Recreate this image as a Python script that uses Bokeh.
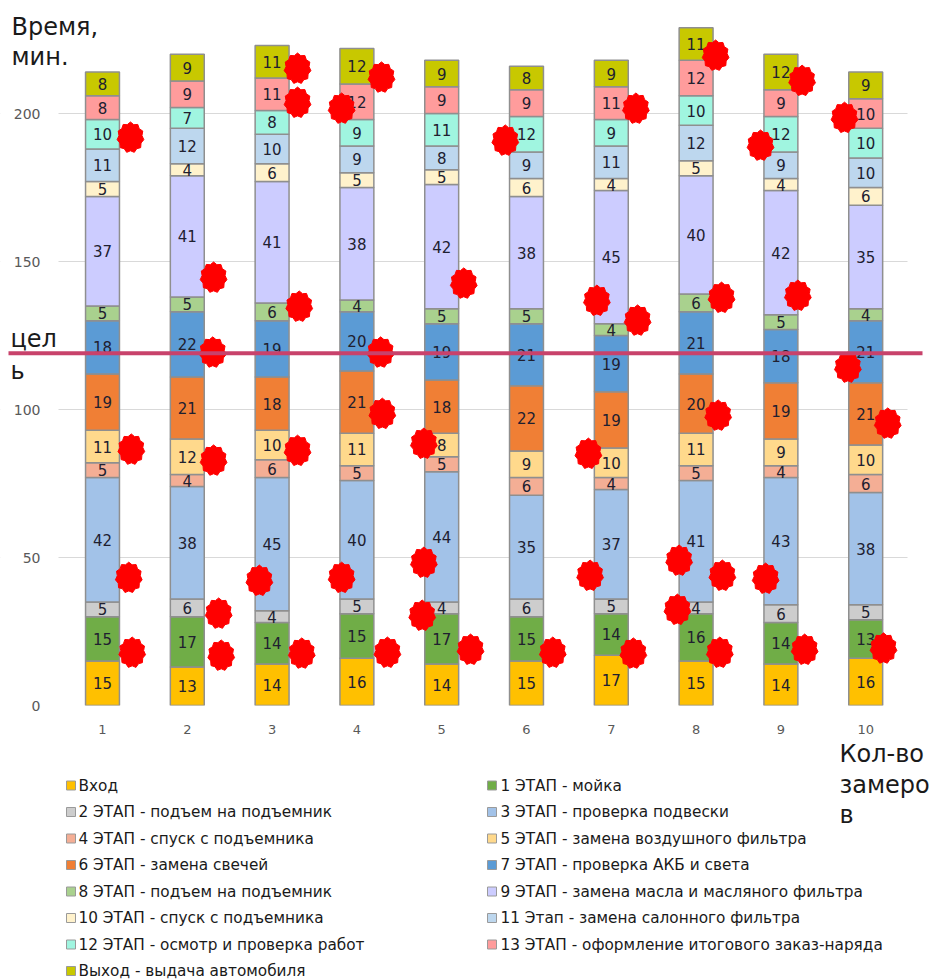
import numpy as np
from bokeh.plotting import figure
from bokeh.layouts import column
from bokeh.models import ColumnDataSource, Range1d, FixedTicker
from bokeh.core.properties import value
from bokeh.embed import file_html
from bokeh.resources import INLINE

# --- data: minutes per stage for each of 10 measurements ---
measurements = [1, 2, 3, 4, 5, 6, 7, 8, 9, 10]

vhod   = [15, 13, 14, 16, 14, 15, 17, 15, 14, 16]
etap1  = [15, 17, 14, 15, 17, 15, 14, 16, 14, 13]
etap2  = [5, 6, 4, 5, 4, 6, 5, 4, 6, 5]
etap3  = [42, 38, 45, 40, 44, 35, 37, 41, 43, 38]
etap4  = [5, 4, 6, 5, 5, 6, 4, 5, 4, 6]
etap5  = [11, 12, 10, 11, 8, 9, 10, 11, 9, 10]
etap6  = [19, 21, 18, 21, 18, 22, 19, 20, 19, 21]
etap7  = [18, 22, 19, 20, 19, 21, 19, 21, 18, 21]
etap8  = [5, 5, 6, 4, 5, 5, 4, 6, 5, 4]
etap9  = [37, 41, 41, 38, 42, 38, 45, 40, 42, 35]
etap10 = [5, 4, 6, 5, 5, 6, 4, 5, 4, 6]
etap11 = [11, 12, 10, 9, 8, 9, 11, 12, 9, 10]
etap12 = [10, 7, 8, 9, 11, 12, 9, 10, 12, 10]
etap13 = [8, 9, 11, 12, 9, 9, 11, 12, 9, 10]
vyhod  = [8, 9, 11, 12, 9, 8, 9, 11, 12, 9]

stage_names = [
    "Вход",
    "1 ЭТАП - мойка",
    "2 ЭТАП - подъем на подъемник",
    "3 ЭТАП - проверка подвески",
    "4 ЭТАП - спуск с подъемника",
    "5 ЭТАП - замена воздушного фильтра",
    "6 ЭТАП - замена свечей",
    "7 ЭТАП - проверка АКБ и света",
    "8 ЭТАП - подъем на подъемник",
    "9 ЭТАП - замена масла и масляного фильтра",
    "10 ЭТАП - спуск с подъемника",
    "11 Этап - замена салонного фильтра",
    "12 ЭТАП - осмотр и проверка работ",
    "13 ЭТАП - оформление итогового заказ-наряда",
    "Выход - выдача автомобиля",
]
stage_colors = [
    "#FFC000", "#70AD47", "#CDCDCD", "#A2C2E8", "#F4AE95",
    "#FFD98C", "#F07F35", "#5B9BD5", "#A9D18E", "#CCCCFF",
    "#FFF2CC", "#BDD7EE", "#A0F5E0", "#FF9C9C", "#C8C800",
]
stages = [vhod, etap1, etap2, etap3, etap4, etap5, etap6, etap7,
          etap8, etap9, etap10, etap11, etap12, etap13, vyhod]

target = 119  # цель, мин.
y_ticks = [0, 50, 100, 150, 200]

# red markers placed over the chart (measurement axis, minutes)
star_x = [1.33, 2.31, 3.30, 3.30, 3.82, 3.32, 2.30, 4.29, 5.26, 5.75,
          6.83, 4.28, 7.29, 8.23, 9.25, 9.75, 8.76, 7.31, 8.30, 9.20,
          1.34, 2.31, 3.30, 1.31, 2.85, 3.82, 2.37, 1.35, 2.40, 3.35,
          4.30, 4.79, 4.79, 4.77, 4.36, 5.34, 6.31, 6.73, 6.75, 9.79,
          8.26, 10.26, 7.80, 8.31, 8.82, 7.78, 7.26, 8.28, 9.28, 10.21]
star_y = [191.9, 144.6, 215.2, 203.7, 201.7, 134.8, 119.3, 212.2, 142.6, 190.9,
          136.8, 119.3, 201.7, 219.6, 211.1, 198.6, 189.2, 130.1, 137.8, 138.5,
          86.5, 82.8, 86.1, 43.2, 42.2, 43.2, 31.1, 17.9, 16.9, 17.6,
          98.6, 88.5, 48.3, 30.4, 17.9, 18.9, 17.9, 85.1, 43.9, 114.2,
          98.0, 95.3, 49.0, 43.9, 42.9, 32.4, 17.6, 17.9, 18.9, 19.3]

FONT = "DejaVu Sans"
DARK = "#1A1A1A"

# --- main chart geometry (frame fills the canvas width) ---
W, HA, HB = 932, 736, 244
frame_bottom = 705            # pixel row of the zero line
px_x = 84.8                   # pixels per measurement step
px_y = 2.96                   # pixels per minute
x0_px = 102                   # pixel column of measurement 1
x_lo = 1 + (0 - x0_px) / px_x
x_hi = 1 + (W - x0_px) / px_x
y_lo, y_hi = 0, frame_bottom / px_y
plot_left, plot_right = 58, 907   # visible extent of the gridlines


def dx(px):
    return 1 + (px - x0_px) / px_x


def dy(py):
    return (frame_bottom - py) / px_y


p = figure(width=W, height=HA, x_range=Range1d(x_lo, x_hi), y_range=Range1d(y_lo, y_hi),
           output_backend="svg", toolbar_location=None,
           min_border_left=0, min_border_right=0,
           min_border_top=0, min_border_bottom=HA - frame_bottom)
p.outline_line_color = None
p.background_fill_color = "white"
p.border_fill_color = "white"

# keep the gridlines within the plotting area
p.quad(left=[x_lo, dx(plot_right)], right=[dx(plot_left), x_hi],
       bottom=[y_lo - 5, y_lo - 5], top=[y_hi + 5, y_hi + 5],
       fill_color="white", line_color=None)

keys = [f"s{i}" for i in range(len(stages))]
data = {"x": measurements}
for k, vals in zip(keys, stages):
    data[k] = vals
src = ColumnDataSource(data)
p.vbar_stack(keys, x="x", width=0.40, source=src, color=stage_colors,
             line_color="#8F8F8F", line_width=1.5)

# value labels centred in each segment
cum = np.zeros(len(measurements))
lx, ly, lt = [], [], []
for vals in stages:
    v = np.array(vals, dtype=float)
    mid = cum + v / 2
    lx += measurements
    ly += list(mid)
    lt += [str(int(a)) for a in v]
    cum += v
p.text(x=lx, y=ly, text=lt, text_align="center", text_baseline="middle",
       text_font=value(FONT), text_font_size="15px", text_color="#202030")


# red seal-shaped markers
def seal(cx, cy, rx=13.5, ry=15.5, n=11, dent=0.86):
    ang = np.linspace(0, 2 * np.pi, 2 * n, endpoint=False) + np.pi / 2
    r = np.where(np.arange(2 * n) % 2 == 0, 1.0, dent)
    return list(cx + rx * r * np.cos(ang) / px_x), list(cy + ry * r * np.sin(ang) / px_y)


sxs, sys_ = [], []
for cx, cy in zip(star_x, star_y):
    a, b = seal(cx, cy)
    sxs.append(a)
    sys_.append(b)
p.patches(xs=sxs, ys=sys_, fill_color="#FF0000", line_color="#FF0000", line_width=1)

# target line
p.segment(x0=[dx(8)], x1=[dx(922)], y0=[target], y1=[target],
          line_color="#C8426B", line_width=4)

# captions on the chart
caps = [("Время,", 11, 26), ("мин.", 11, 56), ("цел", 10, 338), ("ь", 10, 370)]
p.text(x=[dx(c[1]) for c in caps], y=[dy(c[2]) for c in caps], text=[c[0] for c in caps],
       text_baseline="alphabetic", text_align="left",
       text_font=value(FONT), text_font_size="24px", text_color=DARK)

# axes and grid
p.xaxis.ticker = FixedTicker(ticks=measurements)
p.yaxis.ticker = FixedTicker(ticks=y_ticks)
for ax in (p.xaxis, p.yaxis):
    ax.major_tick_line_color = None
    ax.minor_tick_line_color = None
    ax.axis_line_color = None
    ax.major_label_text_font = FONT
    ax.major_label_text_color = "#595959"
p.yaxis.major_label_text_font_size = "14px"
p.xaxis.major_label_text_font_size = "13px"
p.yaxis.major_label_standoff = -46
p.xaxis.major_label_standoff = 13
p.xgrid.grid_line_color = None
p.ygrid.grid_line_color = "#D9D9D9"

# --- legend panel below the chart (page pixel coordinates) ---
q = figure(width=W, height=HB, x_range=Range1d(0, W), y_range=Range1d(HA + HB, HA),
           output_backend="svg", toolbar_location=None, min_border=0)
q.axis.visible = False
q.grid.visible = False
q.outline_line_color = None

row0, row_step = 785, 26.5
col_sq = [70.5, 491.5]
col_tx = [78, 500]
sq_x, sq_y, tx_x, tx_y = [], [], [], []
for i in range(len(stage_names)):
    r, c = divmod(i, 2)
    sq_x.append(col_sq[c])
    sq_y.append(row0 + r * row_step)
    tx_x.append(col_tx[c])
    tx_y.append(row0 + r * row_step)
q.rect(x=sq_x, y=sq_y, width=9, height=9, width_units="screen", height_units="screen",
       fill_color=stage_colors, line_color="#9A9A9A", line_width=1)
q.text(x=tx_x, y=tx_y, text=stage_names, text_baseline="middle", text_align="left",
       text_font=value(FONT), text_font_size="15.3px", text_color=DARK)

q.text(x=[839, 839, 839], y=[753, 784, 814], text=["Кол-во", "замеро", "в"],
       text_baseline="alphabetic", text_align="left",
       text_font=value(FONT), text_font_size="24px", text_color=DARK)

layout = column(p, q, spacing=0)
open("out.html", "w").write(file_html(layout, INLINE))
